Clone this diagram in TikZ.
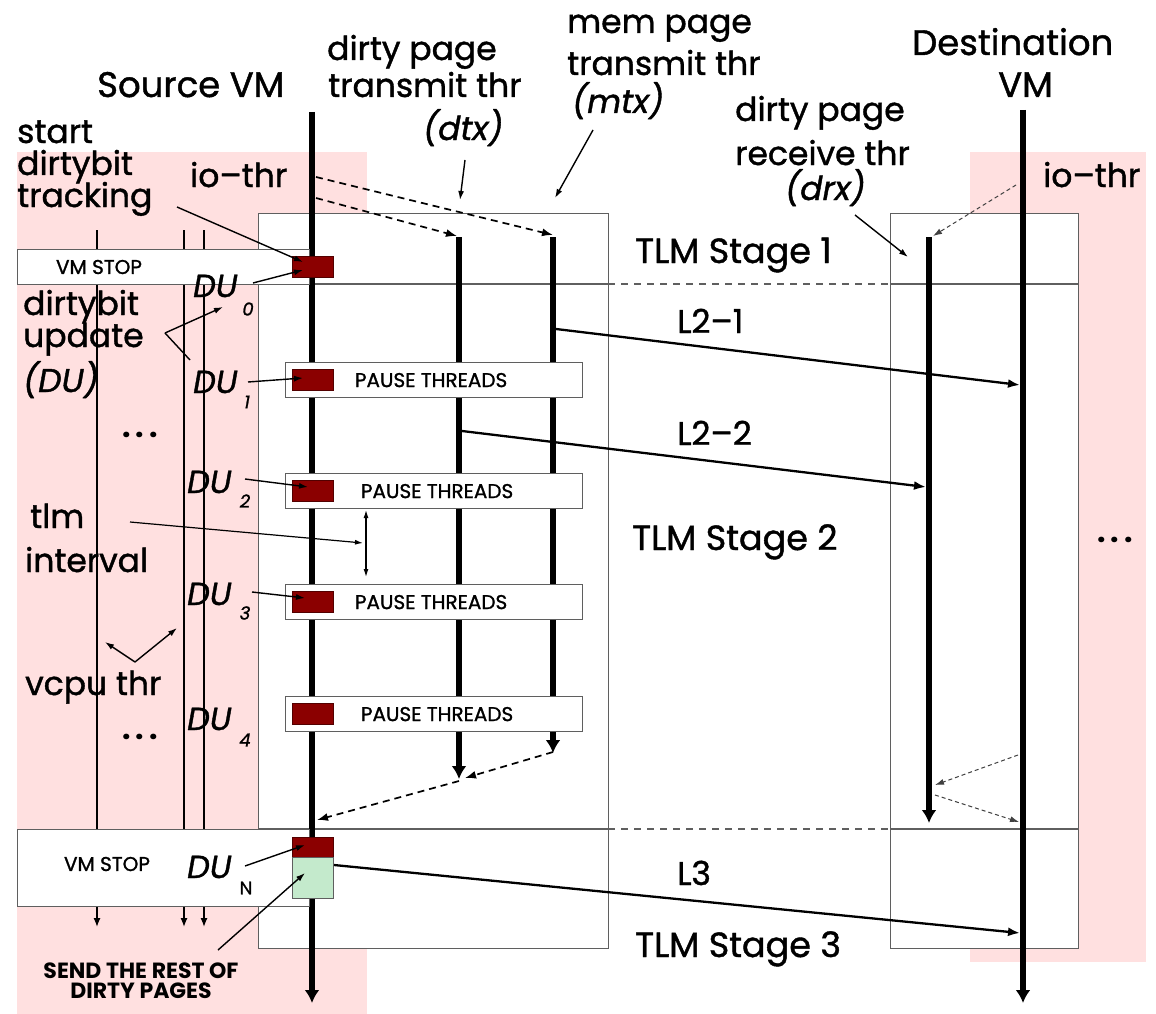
\documentclass[tikz,border=0pt]{standalone}
\usepackage{fontspec}
\setmainfont{Poppins}[UprightFeatures={FakeBold=1.2}, ItalicFeatures={FakeBold=1.2}]
\usetikzlibrary{arrows.meta}
\definecolor{pinkbg}{RGB}{255,224,224}
\definecolor{dured}{RGB}{139,0,0}
\definecolor{sendgreen}{RGB}{196,234,204}
\definecolor{boxgray}{RGB}{95,95,95}
\newcommand\setfs[1]{\fontsize{#1pt}{#1pt}\selectfont}
\begin{document}
\begin{tikzpicture}[x=1pt,y=-1pt,
  txt/.style={inner sep=0pt, anchor=base west, font=\setfs{33}},
  big/.style={txt, font=\setfs{35.5}},
  stagetxt/.style={txt, font=\setfs{35}},
  dutxt/.style={txt, font=\setfs{32}\itshape},
  subtxt/.style={inner sep=0pt, font=\setfs{18}\itshape},
  capsmall/.style={inner sep=0pt, font=\setfs{20}},
  tlmbox/.style={draw=boxgray, line width=1.2pt, fill=white, inner sep=0pt, anchor=north west},
  pbox/.style={draw=boxgray, line width=1.2pt, fill=white, inner sep=0pt, anchor=north west, font=\setfs{20}, minimum width=297pt, minimum height=35pt},
  redbox/.style={fill=dured, draw=dured!60!black, line width=0.6pt, inner sep=0pt, anchor=north west, minimum width=41pt},
  thread/.style={line width=5.5pt, -{Latex[length=13pt,width=15pt]}},
  vcpu/.style={line width=1.3pt, -{Latex[length=9pt,width=7pt]}},
  pointer/.style={line width=1.4pt, -{Latex[length=9pt,width=6pt]}},
  iodash/.style={line width=1.7pt, dash pattern=on 7pt off 5pt, -{Latex[length=11pt,width=8pt]}},
  rxdash/.style={line width=1pt, dash pattern=on 4pt off 3pt, black!75, -{Latex[length=9pt,width=6pt]}},
  msg/.style={line width=2.3pt, -{Latex[length=12pt,width=9pt]}},
  stageline/.style={line width=1.2pt, draw=boxgray}
]
\useasboundingbox (0,0) rectangle (1156,1014);
% backgrounds
\fill[pinkbg] (17,152) rectangle (367,1014);
\fill[pinkbg] (970,152) rectangle (1146,962);
% TLM boxes
\node[tlmbox, minimum width=350pt, minimum height=735pt] (tlmL) at (258,213) {};
\node[tlmbox, minimum width=188pt, minimum height=735pt] (tlmR) at (890,213) {};
\draw[stageline] (258,284) -- (608,284) (890,284) -- (1078,284);
\draw[stageline] (258,829) -- (608,829) (890,829) -- (1078,829);
\draw[stageline, dash pattern=on 7pt off 6pt] (608,284) -- (890,284) (608,829) -- (890,829);
% vcpu threads
\coordinate (vc1T) at (97,230);  \coordinate (vc1B) at (97,927);
\coordinate (vc2T) at (184,230); \coordinate (vc2B) at (184,927);
\coordinate (vc3T) at (204,230); \coordinate (vc3B) at (204,927);
\draw[vcpu] (vc1T) -- (vc1B);
\draw[vcpu] (vc2T) -- (vc2B);
\draw[vcpu] (vc3T) -- (vc3B);
% main threads
\coordinate (srcT) at (312,112); \coordinate (srcB) at (312,1003);
\coordinate (dtxT0) at (459,237); \coordinate (dtxB0) at (459,779);
\coordinate (mtxT0) at (553,237); \coordinate (mtxB0) at (553,753);
\coordinate (drxT0) at (929,237); \coordinate (drxB0) at (929,823);
\coordinate (dstT) at (1023,110); \coordinate (dstB) at (1023,1003);
\draw[thread] (srcT) -- (srcB);
\draw[thread] (dtxT0) -- (dtxB0);
\draw[thread] (mtxT0) -- (mtxB0);
\draw[thread] (drxT0) -- (drxB0);
\draw[thread] (dstT) -- (dstB);
% VM STOP boxes
\node[tlmbox, minimum width=292pt, minimum height=35pt] (stop1) at (17,249) {};
\node[tlmbox, minimum width=292pt, minimum height=77pt] (stop2) at (17,829) {};
\node[capsmall] (stop1t) at (99,267) {VM STOP};
\node[capsmall] (stop2t) at (107,864) {VM STOP};
% pause boxes
\node[pbox] (p1) at (285,362) {\hspace*{-6pt}PAUSE THREADS};
\node[pbox] (p2) at (285,473) {\hspace*{6pt}PAUSE THREADS};
\node[pbox] (p3) at (285,584) {\hspace*{-6pt}PAUSE THREADS};
\node[pbox] (p4) at (285,696) {\hspace*{6pt}PAUSE THREADS};
% red / green boxes
\node[redbox, minimum height=21pt] (r0) at (292,256) {};
\node[redbox, minimum height=21pt] (r1) at (292,369) {};
\node[redbox, minimum height=21pt] (r2) at (292,480) {};
\node[redbox, minimum height=21pt] (r3) at (292,591) {};
\node[redbox, minimum height=21pt] (r4) at (292,703) {};
\node[redbox, minimum height=20pt] (rN) at (292,837) {};
\node[redbox, fill=sendgreen, draw=boxgray, minimum height=41pt] (gN) at (292,857) {};
% io thread dashed arrows
\coordinate (ioA) at (316,177); \coordinate (mtxT) at (553,235);
\coordinate (ioB) at (316,198); \coordinate (dtxT) at (457,236);
\draw[iodash] (ioA) -- (mtxT);
\draw[iodash] (ioB) -- (dtxT);
\coordinate (mtxB) at (553,752); \coordinate (dtxM) at (465,778);
\coordinate (dtxB) at (459,781); \coordinate (srcM) at (317,820);
\draw[iodash] (mtxB) -- (dtxM);
\draw[iodash] (dtxB) -- (srcM);
\coordinate (dioA) at (1016,185); \coordinate (drxT) at (933,236);
\coordinate (dioB) at (1018,755); \coordinate (drxM) at (935,785);
\coordinate (drxB) at (935,795); \coordinate (dstM) at (1019,822);
\draw[rxdash] (dioA) -- (drxT);
\draw[rxdash] (dioB) -- (drxM);
\draw[rxdash] (drxB) -- (dstM);
% messages
\coordinate (l21a) at (556,329); \coordinate (l21b) at (1020,385);
\coordinate (l22a) at (462,431); \coordinate (l22b) at (926,487);
\coordinate (l3a) at (334,865);  \coordinate (l3b) at (1020,933);
\draw[msg] (l21a) -- (l21b);
\draw[msg] (l22a) -- (l22b);
\draw[msg] (l3a) -- (l3b);
% headings
\node[big] (srcvm) at (97,97) {Source VM};
\node[big] (dst1) at (912,55) {Destination};
\node[big] (dst2) at (998,97) {VM};
\node[txt] (dtx1) at (327,60) {dirty page};
\node[txt] (dtx2) at (328,97) {transmit thr};
\node[txt, font=\setfs{33}\itshape] (dtx3) at (423,140) {(dtx)};
\node[txt] (mtx1) at (567,33) {mem page};
\node[txt] (mtx2) at (567,75) {transmit thr};
\node[txt, font=\setfs{33}\itshape] (mtx3) at (572,113) {(mtx)};
\node[txt] (drx1) at (735,121) {dirty page};
\node[txt] (drx2) at (735,165) {receive thr};
\node[txt, font=\setfs{33}\itshape] (drx3) at (785,200) {(drx)};
\node[txt] (st1) at (17,143) {start};
\node[txt] (st2) at (17,175) {dirtybit};
\node[txt] (st3) at (17,207) {tracking};
\node[txt] (io1) at (190,187) {io--thr};
\node[txt] (io2) at (1043,187) {io--thr};
\node[txt] (up1) at (23,315) {dirtybit};
\node[txt] (up2) at (23,347) {update};
\node[txt, font=\setfs{33}\itshape] (up3) at (23,392) {(DU)};
\node[txt] (tl1) at (30,528) {tlm};
\node[txt] (tl2) at (25,572) {interval};
\node[txt] (vc) at (25,695) {vcpu thr};
\node[stagetxt] (s1) at (635,263) {TLM Stage 1};
\node[stagetxt] (s2) at (632,550) {TLM Stage 2};
\node[stagetxt] (s3) at (635,957) {TLM Stage 3};
\node[txt] (m21) at (677,333) {L2--1};
\node[txt] (m22) at (677,445) {L2--2};
\node[txt] (m3) at (677,885) {L3};
\node[txt, font=\setfs{30}\bfseries] (dotsA) at (122,437) {.\,.\,.};
\node[txt, font=\setfs{30}\bfseries] (dotsB) at (122,739) {.\,.\,.};
\node[txt, font=\setfs{30}\bfseries] (dotsC) at (1097,542) {.\,.\,.};
% DU labels
\node[dutxt] (du0) at (193,297) {DU};
\node[dutxt] (du1) at (193,393) {DU};
\node[dutxt] (du2) at (187,493) {DU};
\node[dutxt] (du3) at (187,605) {DU};
\node[dutxt] (du4) at (187,730) {DU};
\node[dutxt] (duN) at (187,878) {DU};
\node[subtxt] (sb0) at (248,309) {0};
\node[subtxt] (sb1) at (247,402) {1};
\node[subtxt] (sb2) at (245,501) {2};
\node[subtxt] (sb3) at (245,613) {3};
\node[subtxt] (sb4) at (245,740) {4};
\node[subtxt, font=\setfs{18}] (sbN) at (246,888) {N};
\node[inner sep=0pt, align=center, font=\setfs{22}\bfseries] (send) at (141,981) {SEND THE REST OF\\[-2pt]DIRTY PAGES};
% pointers
\coordinate (pdtxA) at (465,160); \coordinate (pdtxB) at (460,200);
\coordinate (pmtxA) at (593,130); \coordinate (pmtxB) at (555,198);
\coordinate (pdrxA) at (855,215); \coordinate (pdrxB) at (908,257);
\coordinate (pstA) at (177,207); \coordinate (pstB) at (303,262);
\coordinate (pd0A) at (253,283); \coordinate (pd0B) at (303,270);
\coordinate (pupV) at (165,333); \coordinate (pupA) at (223,307); \coordinate (pupB) at (190,360);
\coordinate (pd1A) at (248,382); \coordinate (pd1B) at (303,378);
\coordinate (pd2A) at (245,479); \coordinate (pd2B) at (308,487);
\coordinate (pd3A) at (252,592); \coordinate (pd3B) at (305,598);
\coordinate (pdNA) at (245,866); \coordinate (pdNB) at (305,845);
\coordinate (psA) at (218,950); \coordinate (psB) at (305,873);
\coordinate (ptA) at (130,522); \coordinate (ptB) at (363,543);
\coordinate (ivA) at (366,510); \coordinate (ivB) at (366,577);
\coordinate (pvV) at (135,662); \coordinate (pvA) at (105,642); \coordinate (pvB) at (177,628);
\draw[pointer] (pdtxA) -- (pdtxB);
\draw[pointer] (pmtxA) -- (pmtxB);
\draw[pointer] (pdrxA) -- (pdrxB);
\draw[pointer] (pstA) -- (pstB);
\draw[pointer] (pd0A) -- (pd0B);
\draw[pointer] (pupV) -- (pupA);
\draw[line width=1.4pt] (pupV) -- (pupB);
\draw[pointer] (pd1A) -- (pd1B);
\draw[pointer] (pd2A) -- (pd2B);
\draw[pointer] (pd3A) -- (pd3B);
\draw[pointer] (pdNA) -- (pdNB);
\draw[pointer] (psA) -- (psB);
\draw[line width=1.2pt, -{Latex[length=8pt,width=5pt]}] (ptA) -- (ptB);
\draw[line width=1.2pt, {Latex[length=8pt,width=5pt]}-{Latex[length=8pt,width=5pt]}] (ivA) -- (ivB);
\draw[pointer] (pvV) -- (pvA);
\draw[pointer] (pvV) -- (pvB);
\end{tikzpicture}
\end{document}
